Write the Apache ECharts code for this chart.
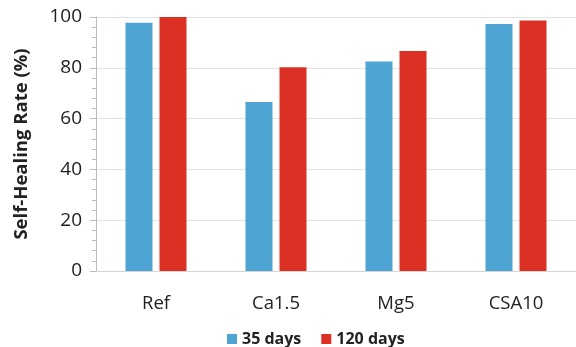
<!DOCTYPE html>
<html><head><meta charset="utf-8">
<script src="https://cdn.jsdelivr.net/npm/echarts@6/dist/echarts.min.js"></script>
<style>html,body{margin:0;padding:0;background:#fff}#c{width:576px;height:347px}</style>
</head><body><div id="c"></div>
<script>
const categories = ["Ref", "Ca1.5", "Mg5", "CSA10"];
const days35 = [97.7, 66.5, 82.5, 97.2];
const days120 = [100, 80.2, 86.6, 98.6];
const yTicks = [0, 20, 40, 60, 80, 100];
const seriesNames = ["35 days", "120 days"];

const chart = echarts.init(document.getElementById('c'), null, {renderer: 'canvas'});
const font = "'Open Sans', 'Noto Sans', sans-serif";
chart.setOption({
  animation: false,
  grid: {left: 96, right: 0, top: 17, bottom: 76},
  legend: {
    data: seriesNames, left: 222, top: 326, itemWidth: 10, itemHeight: 10, itemGap: 20,
    icon: 'rect',
    textStyle: {fontFamily: font, fontSize: 16, fontWeight: 'bold', color: '#222'}
  },
  xAxis: {
    type: 'category', data: categories,
    axisLine: {lineStyle: {color: '#d4d4d4'}},
    axisTick: {show: false},
    axisLabel: {fontFamily: font, fontSize: 18.5, color: '#222', margin: 23}
  },
  yAxis: {
    type: 'value', min: yTicks[0], max: yTicks[yTicks.length - 1], interval: 20,
    name: 'Self-Healing Rate (%)', nameLocation: 'middle', nameGap: 65,
    nameTextStyle: {fontFamily: font, fontSize: 18.5, fontWeight: 'bold', color: '#222'},
    axisLine: {show: true, lineStyle: {color: '#bbb'}},
    axisTick: {show: true, length: 6, lineStyle: {color: '#bbb'}},
    minorTick: {show: true, splitNumber: 5, length: 4, lineStyle: {color: '#bbb'}},
    splitLine: {lineStyle: {color: '#e2e2e2'}},
    axisLabel: {fontFamily: font, fontSize: 19, color: '#222', margin: 14}
  },
  series: [
    {name: seriesNames[0], type: 'bar', data: days35, barWidth: 27, barGap: '26%',
     itemStyle: {color: '#4ea5d4'}},
    {name: seriesNames[1], type: 'bar', data: days120, barWidth: 27,
     itemStyle: {color: '#dd3024'}}
  ]
});
</script></body></html>
